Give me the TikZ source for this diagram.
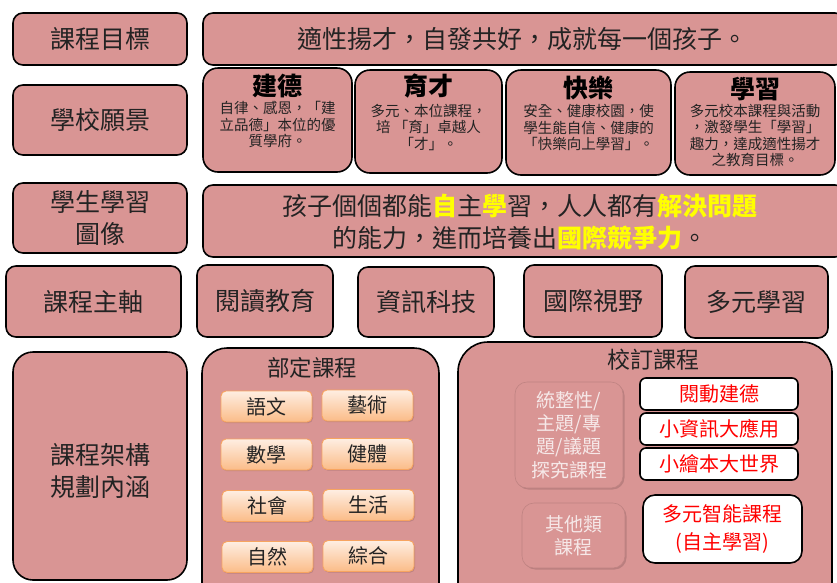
\documentclass[tikz,border=0pt]{standalone}
\usepackage{fontspec}
\setmainfont{Noto Sans CJK TC}
\usetikzlibrary{shadows}
\definecolor{pk}{RGB}{217,149,148}
\definecolor{orb}{RGB}{247,164,96}
\definecolor{ortop}{RGB}{254,238,226}
\definecolor{orbot}{RGB}{251,188,136}
\definecolor{yl}{RGB}{255,255,0}
\definecolor{txt}{RGB}{35,35,35}
\definecolor{lighttxt}{RGB}{246,232,232}
\newcommand\myfA{\fontsize{25}{32}\selectfont}
\newcommand\myfB{\fontsize{14.5}{16.5}\selectfont}
\newcommand\myfC{\fontsize{20}{28}\selectfont}
\newcommand\myfD{\fontsize{19}{23.3}\selectfont}
\newcommand\myhl[1]{{\color{yl}\bfseries #1}}
\tikzset{
  pbox/.style={draw=black, line width=1.6pt, fill=pk, rounded corners=#1,
    inner sep=0pt, text=txt, align=center},
  pbox/.default=10pt,
  sz/.style 2 args={minimum width=#1, minimum height=#2},
  plain/.style={inner sep=0pt, text=txt, align=center},
  obox/.style={draw=orb, line width=0.9pt, top color=ortop, bottom color=orbot,
    rounded corners=5pt, minimum width=91pt, minimum height=31pt, inner sep=0pt,
    text=txt, font=\myfC,
    drop shadow={shadow xshift=1pt, shadow yshift=-1.2pt, fill=pk!75!black, draw=none}},
  wbox/.style={draw=black, line width=1.6pt, fill=white, rounded corners=#1,
    inner sep=0pt, text=red, align=center, font=\myfC},
  wbox/.default=6pt,
  ibox/.style={fill=pk, draw=pk!88!black, line width=0.6pt, rounded corners=12pt,
    inner sep=0pt, align=center, text=lighttxt, font=\myfD,
    drop shadow={shadow xshift=1.5pt, shadow yshift=-1.5pt, fill=pk!72!black, draw=none}},
}
\begin{document}
\begin{tikzpicture}[x=1pt,y=-1pt]
\useasboundingbox (0,0) rectangle (837,582);
\fill[white] (0,0) rectangle (837,582);

% row 1
\node[pbox, sz={174pt}{52pt}, font=\myfA] (goal) at (100,39) {課程目標};
\node[pbox, sz={642pt}{52pt}, font=\myfA] (goaltxt) at (524,39) {};
\node[plain, font=\myfA] (goaltext) at (522,39) {適性揚才，自發共好，成就每一個孩子。};

% row 2
\node[pbox, sz={174pt}{70pt}, font=\myfA] (vision) at (100,120) {學校願景};
\node[pbox=15pt, sz={149pt}{104pt}] (v1) at (277.5,120) {};
\node[pbox=15pt, sz={147pt}{103pt}] (v2) at (428.5,121.5) {};
\node[pbox=15pt, sz={165pt}{105pt}] (v3) at (588.5,122.5) {};
\node[pbox=15pt, sz={160pt}{103pt}] (v4) at (755,123.5) {};
\node[plain, font=\myfA\bfseries, text=black] (v1t) at (277.5,86) {建德};
\node[plain, font=\myfA\bfseries, text=black] (v2t) at (428.5,86) {育才};
\node[plain, font=\myfA\bfseries, text=black] (v3t) at (588.5,88) {快樂};
\node[plain, font=\myfA\bfseries, text=black] (v4t) at (755,89) {學習};
\node[plain, font=\myfB, anchor=north] (v1b) at (277.5,101) {自律、感恩，「建\\立品德」本位的優\\質學府。};
\node[plain, font=\myfB, anchor=north] (v2b) at (428.5,104) {多元、本位課程，\\培\ 「育」卓越人\\「才」。};
\node[plain, font=\myfB, anchor=north] (v3b) at (588.5,104) {安全、健康校園，使\\學生能自信、健康的\\「快樂向上學習」。};
\node[plain, font=\myfB, anchor=north] (v4b) at (755,104) {多元校本課程與活動\\，激發學生「學習」\\趣力，達成適性揚才\\之教育目標。};

% row 3
\node[pbox, sz={174pt}{70pt}, font=\myfA] (img) at (100,218) {學生學習\\圖像};
\node[pbox, sz={642pt}{72pt}] (imgbox) at (524,221) {};
\node[plain, font=\myfA] (imgtext) at (520,222)
  {孩子個個都能\myhl{自}主\myhl{學}習，人人都有\myhl{解決問題}\\的能力，進而培養出\myhl{國際競爭力}。};

% row 4
\node[pbox, sz={175pt}{71pt}, font=\myfA] (axis) at (93.5,301.5) {課程主軸};
\node[pbox, sz={136pt}{72pt}, font=\myfA] (a1) at (265,301) {閱讀教育};
\node[pbox, sz={136pt}{70pt}, font=\myfA] (a2) at (426,302) {資訊科技};
\node[pbox, sz={138pt}{72pt}, font=\myfA] (a3) at (593,301) {國際視野};
\node[pbox, sz={143pt}{72pt}, font=\myfA] (a4) at (756.5,302) {多元學習};

% row 5
\node[pbox=20pt, sz={174pt}{228pt}] (frame) at (100,466) {};
\node[plain, font=\myfA] (frametext) at (100,471) {課程架構\\規劃內涵};

\node[pbox=25pt, sz={237pt}{260pt}] (req) at (320.5,478) {};
\node[plain, font=\fontsize{22.5}{26}\selectfont] (reqt) at (312,368) {部定課程};
\node[obox] (c1) at (266.5,406.5) {語文};
\node[obox] (c2) at (367.5,405.5) {藝術};
\node[obox] (c3) at (266.5,454.5) {數學};
\node[obox] (c4) at (367.5,454) {健體};
\node[obox] (c5) at (267.5,506) {社會};
\node[obox] (c6) at (368.5,505) {生活};
\node[obox] (c7) at (267.5,557) {自然};
\node[obox] (c8) at (368.5,556) {綜合};

\node[pbox=30pt, sz={374pt}{270pt}] (sch) at (645,477) {};
\node[plain, font=\fontsize{23}{26}\selectfont] (scht) at (653,360) {校訂課程};
\node[ibox, sz={108pt}{106pt}] (int) at (569,435) {統整性/\\主題/專\\題/議題\\探究課程};
\node[ibox, sz={103pt}{65pt}] (oth) at (573.5,535.5) {其他類\\課程};
\node[wbox, sz={158pt}{32pt}] (s1) at (719,394) {閱動建德};
\node[wbox, sz={158pt}{32pt}] (s2) at (719,429) {小資訊大應用};
\node[wbox, sz={158pt}{32pt}] (s3) at (719,464) {小繪本大世界};
\node[wbox=12pt, sz={159pt}{68pt}] (s4) at (722.5,529) {多元智能課程\\(自主學習)};
\end{tikzpicture}
\end{document}
